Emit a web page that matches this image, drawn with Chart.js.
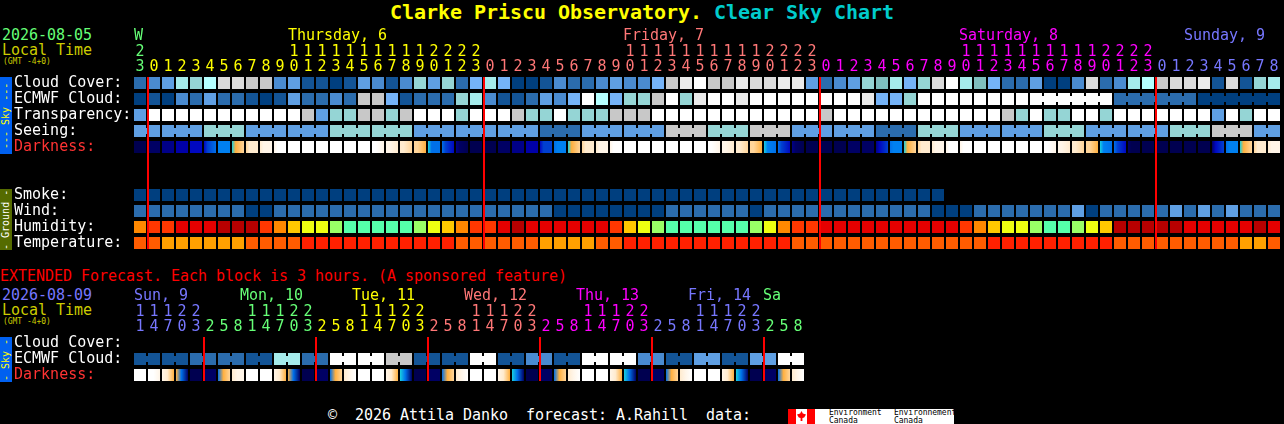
<!DOCTYPE html>
<html>
<head>
<meta charset="utf-8">
<title>Clear Sky Chart</title>
<script src="https://cdn.jsdelivr.net/npm/chart.js@4"></script>
<style>
    html, body { margin: 0; padding: 0; background: #000; }
    body { width: 1284px; height: 424px; position: relative; overflow: hidden; font-family: "DejaVu Sans Mono", monospace; }
    canvas { position: absolute; left: 0; }
    .t { position: absolute; white-space: pre; font-size: 15px; line-height: 16px; letter-spacing: -0.03px; color: #fff; }
    .strip { position: absolute; left: 0; width: 12px; writing-mode: vertical-rl; transform: rotate(180deg); text-align: center; font-size: 10px; line-height: 12px; white-space: pre; }
</style>
</head>
<body>
<div class="t" style="left:390px;top:0;font-size:20px;line-height:24px;letter-spacing:-0.04px;font-weight:bold;color:#ff0">Clarke Priscu Observatory. <span style="color:#0cc">Clear Sky Chart</span></div>

<div class="t" style="left:2px;top:27px;color:#66ff77">2026-08-05</div>
<div class="t" style="left:2px;top:42px;color:#cc0">Local Time</div>
<div class="t" style="left:3px;top:57px;font-size:8px;line-height:9px;color:#cc0">(GMT -4+0)</div>
<div class="strip" style="top:77px;height:77px;background:#0060f0;color:#ff0">--- Sky ---</div>
<div class="strip" style="top:189px;height:61px;background:#556b00;color:#fff">- Ground -</div>

<div class="t" style="left:0;top:268px;color:#f00">EXTENDED Forecast. Each block is 3 hours. (A sponsored feature)</div>
<div class="t" style="left:2px;top:287px;color:#7777ff">2026-08-09</div>
<div class="t" style="left:2px;top:302px;color:#cc0">Local Time</div>
<div class="t" style="left:3px;top:317px;font-size:8px;line-height:9px;color:#cc0">(GMT -4+0)</div>
<div class="strip" style="top:337px;height:45px;background:#0060f0;color:#ff0">- Sky -</div>

<div class="t" style="left:328px;top:407px">©  2026 Attila Danko  forecast: A.Rahill  data:</div>
<div style="position:absolute;left:788px;top:409px;width:166px;height:15px;background:#fff;overflow:hidden">
    <div style="position:absolute;left:0;top:0;width:8px;height:15px;background:#f00"></div>
    <div style="position:absolute;left:19px;top:0;width:8px;height:15px;background:#f00"></div>
    <div style="position:absolute;left:9px;top:2px;width:9px;height:10px;background:#f00;clip-path:polygon(50% 0,65% 25%,100% 35%,80% 65%,60% 70%,60% 100%,40% 100%,40% 70%,20% 65%,0 35%,35% 25%)"></div>
    <div class="t" style="left:41px;top:0;font-size:8px;line-height:8px;color:#000">Environment
Canada</div>
    <div class="t" style="left:106px;top:0;font-size:8px;line-height:8px;color:#000">Environnement
Canada</div>
</div>

<canvas id="chart-main" width="1284" height="210" style="top:41px;width:1284px;height:210px"></canvas>
<canvas id="chart-extended" width="1284" height="82" style="top:301px;width:1284px;height:82px"></canvas>

<script>
// hours along the top, one column per hour
const hourTicks = [
    23, 0, 1, 2, 3, 4, 5, 6, 7, 8, 9, 10, 11, 12, 13, 14, 15, 16, 17, 18, 19, 20, 21, 22, 23,
    0, 1, 2, 3, 4, 5, 6, 7, 8, 9, 10, 11, 12, 13, 14, 15, 16, 17, 18, 19, 20, 21, 22, 23,
    0, 1, 2, 3, 4, 5, 6, 7, 8, 9, 10, 11, 12, 13, 14, 15, 16, 17, 18, 19, 20, 21, 22, 23,
    0, 1, 2, 3, 4, 5, 6, 7, 8
];
const rowLabels = ['Cloud Cover:', 'ECMWF Cloud:', 'Transparency:', 'Seeing:', 'Darkness:', '', '', 'Smoke:', 'Wind:', 'Humidity:', 'Temperature:'];
const dayNames = ['W', 'Thursday, 6', 'Friday, 7', 'Saturday, 8', 'Sunday, 9'];
const dayStartColumns = [0, 1, 25, 49, 73];
const dayLabelLeft = [135, 289, 624, 960, 1185];
const midnightColumns = [1, 25, 49, 73];

// sky levels, index into skyPalette
const cloudCover = [
    2, 3, 4, 8, 7, 9, 11, 11, 10, 10,
    3, 4, 1, 1, 0, 1, 4, 3, 1, 3,
    7, 4, 7, 2, 5, 8, 5, 0, 0, 1,
    3, 2, 2, 3, 4, 3, 3, 5, 10, 12,
    13, 10, 10, 12, 11, 11, 12, 12, 4, 2,
    3, 4, 7, 6, 8, 5, 7, 11, 13, 8,
    6, 5, 2, 2, 4, 0, 0, 3, 11, 2,
    3, 8, 9, 10, 11, 11, 12, 1, 11, 1,
    7, 8
];
const ecmwfCloud = [
    0, 1, 0, 3, 2, 4, 2, 2, 1, 0,
    1, 4, 2, 2, 3, 2, 10, 10, 5, 1,
    2, 2, 2, 7, 8, 3, 1, 1, 2, 4,
    3, 5, 13, 9, 5, 7, 7, 10, 13, 7,
    12, 13, 13, 12, 13, 13, 13, 13, 13, 13,
    13, 13, 12, 5, 5, 7, 13, 13, 13, 13,
    13, 13, 13, 13, 13, 13, 13, 13, 13, 13,
    2, 2, 2, 2, 2, 2, 0, 0, 0, 0,
    0, 0
];
const ecmwfLinks = [64, 65, 66, 67, 68, 70, 71, 72, 73, 74, 76, 77, 78, 79, 80];
const transparency = [
    4, 13, 13, 13, 13, 13, 13, 13, 13, 13,
    13, 13, 10, 4, 7, 7, 10, 10, 7, 10,
    13, 13, 13, 7, 13, 13, 13, 10, 7, 7,
    13, 7, 7, 7, 10, 10, 10, 13, 13, 13,
    13, 13, 13, 13, 13, 13, 13, 13, 13, 10,
    13, 13, 13, 13, 13, 13, 13, 13, 13, 13,
    13, 13, 10, 7, 13, 7, 7, 13, 13, 7,
    13, 13, 13, 13, 13, 13, 13, 4, 13, 7,
    13, 13
];
const seeing = [
    4, 4, 4, 4, 4, 7, 7, 7, 4, 4,
    4, 4, 4, 4, 7, 7, 7, 7, 7, 7,
    4, 4, 4, 4, 4, 4, 4, 4, 4, 2,
    2, 2, 4, 4, 4, 4, 4, 4, 10, 10,
    10, 7, 7, 7, 10, 10, 10, 4, 4, 4,
    4, 4, 4, 2, 2, 2, 7, 7, 7, 4,
    4, 4, 4, 4, 4, 7, 7, 7, 4, 4,
    4, 4, 4, 4, 7, 7, 7, 10, 10, 10,
    4, 4
];
const seeingLinks = [
    0, 2, 3, 5, 6, 8, 9, 11, 12, 14, 15, 17, 18, 20, 21, 23, 24, 26, 27, 29, 30, 32, 33, 35, 36, 38, 39,
    41, 42, 44, 45, 47, 48, 50, 51, 53, 54, 56, 57, 59, 60, 62, 63, 65, 66, 68, 69, 71, 72, 74, 75, 77, 78, 80
];
const smoke = [
    0, 0, 0, 0, 0, 0, 0, 0, 0, 0,
    0, 0, 0, 0, 0, 0, 0, 0, 0, 0,
    0, 0, 0, 0, 0, 0, 0, 0, 0, 0,
    0, 0, 0, 0, 0, 0, 0, 0, 0, 0,
    0, 0, 0, 0, 0, 0, 0, 0, 0, 0,
    0, 0, 0, 0, 0, 0, 0, 0
];
const wind = [
    2, 2, 2, 2, 2, 2, 2, 2, 0, 0,
    2, 2, 2, 2, 2, 2, 2, 2, 2, 2,
    2, 2, 2, 2, 2, 2, 2, 2, 2, 2,
    0, 0, 0, 0, 0, 0, 0, 0, 2, 2,
    2, 2, 2, 2, 0, 2, 2, 2, 2, 2,
    2, 2, 2, 2, 2, 2, 2, 0, 0, 0,
    2, 2, 2, 2, 2, 2, 2, 4, 0, 2,
    2, 2, 2, 2, 4, 2, 4, 2, 4, 2,
    2, 2
];

// ground levels, index into humidityPalette and temperaturePalette
const humidity = [
    3, 2, 2, 1, 1, 1, 0, 0, 0, 2,
    3, 4, 5, 5, 6, 7, 7, 7, 7, 7,
    6, 5, 4, 3, 2, 2, 1, 0, 1, 1,
    1, 1, 1, 1, 2, 4, 5, 6, 7, 7,
    7, 7, 7, 7, 6, 5, 3, 2, 2, 1,
    1, 1, 1, 1, 1, 1, 1, 1, 1, 2,
    3, 4, 5, 5, 6, 7, 7, 6, 5, 4,
    0, 0, 0, 0, 0, 1, 1, 1, 1, 1,
    0, 1
];
const temperature = [
    1, 1, 2, 2, 2, 2, 2, 2, 1, 1,
    1, 1, 0, 0, 0, 0, 0, 0, 0, 0,
    0, 0, 0, 1, 1, 1, 1, 1, 1, 2,
    2, 2, 2, 1, 1, 0, 0, 0, 0, 0,
    0, 0, 0, 0, 0, 0, 0, 1, 1, 1,
    1, 1, 1, 1, 1, 1, 1, 1, 1, 1,
    1, 0, 0, 0, 0, 0, 0, 0, 0, 0,
    1, 1, 1, 1, 1, 1, 1, 1, 1, 2,
    2, 1
];

// darkness changes inside a block, so each block has three levels, left to right
const darkStart = [
    0, 1, 2, 3, 4, 4, 7, 8, 10, 11,
    12, 13, 13, 13, 13, 13, 13, 13, 12, 11,
    10, 8, 6, 2, 0, 0, 1, 2, 3, 4,
    6, 8, 10, 11, 12, 13, 13, 13, 13, 13,
    13, 13, 12, 11, 10, 8, 6, 2, 0, 0,
    0, 1, 1, 2, 6, 8, 10, 11, 12, 12,
    13, 13, 13, 13, 13, 13, 12, 11, 10, 8,
    6, 1, 0, 0, 0, 0, 0, 1, 6, 8,
    10, 11
];
const darkMid = [
    0, 1, 2, 3, 4, 5, 7, 9, 11, 12,
    13, 13, 13, 13, 13, 13, 13, 13, 12, 11,
    10, 6, 5, 1, 0, 0, 1, 2, 3, 5,
    7, 9, 11, 12, 13, 13, 13, 13, 13, 13,
    13, 13, 12, 11, 10, 7, 5, 1, 0, 0,
    0, 1, 1, 4, 7, 9, 11, 12, 13, 13,
    13, 13, 13, 13, 13, 13, 12, 11, 10, 7,
    5, 0, 0, 0, 0, 0, 0, 4, 7, 9,
    11, 12
];
const darkEnd = [
    0, 1, 2, 3, 4, 6, 7, 10, 11, 12,
    13, 13, 13, 13, 13, 13, 13, 12, 11, 10,
    9, 6, 4, 0, 0, 0, 1, 2, 3, 5,
    7, 10, 11, 12, 13, 13, 13, 13, 13, 13,
    13, 12, 11, 10, 9, 6, 4, 0, 0, 0,
    0, 1, 1, 5, 7, 10, 11, 12, 13, 13,
    13, 13, 13, 13, 13, 12, 11, 10, 9, 6,
    4, 0, 0, 0, 0, 0, 0, 5, 7, 10,
    11, 12
];

// extended forecast, one column per 3 hours
const extHourTicks = [
    11, 14, 17, 20, 23,
    2, 5, 8, 11, 14, 17, 20, 23,
    2, 5, 8, 11, 14, 17, 20, 23,
    2, 5, 8, 11, 14, 17, 20, 23,
    2, 5, 8, 11, 14, 17, 20, 23,
    2, 5, 8, 11, 14, 17, 20, 23,
    2, 5, 8
];
const extRowLabels = ['Cloud Cover:', 'ECMWF Cloud:', 'Darkness:'];
const extDayNames = ['Sun, 9', 'Mon, 10', 'Tue, 11', 'Wed, 12', 'Thu, 13', 'Fri, 14', 'Sa'];
const extDayStartColumns = [0, 5, 13, 21, 29, 37, 45];
const extDayLabelLeft = [135, 241, 353, 465, 577, 689, 764];
const extMidnightColumns = [5, 13, 21, 29, 37, 45];
const extEcmwfCloud = [
    1, 1, 1, 1, 2, 2, 2, 2, 1, 1,
    8, 8, 2, 2, 13, 13, 13, 13, 10, 10,
    1, 1, 1, 1, 13, 13, 1, 1, 3, 3,
    1, 1, 13, 13, 13, 13, 3, 3, 1, 1,
    4, 4, 1, 1, 4, 4, 13, 13
];
const extEcmwfLinks = [0, 2, 4, 6, 8, 10, 12, 14, 16, 18, 20, 22, 24, 26, 28, 30, 32, 34, 36, 38, 40, 42, 44, 46];
const extDarkStart = [
    13, 13, 12, 9, 0, 1, 6, 11, 13, 13,
    12, 9, 0, 1, 6, 11, 13, 13, 12, 8,
    0, 1, 6, 11, 13, 13, 12, 8, 0, 1,
    6, 11, 13, 13, 12, 8, 0, 1, 6, 11,
    13, 13, 12, 8, 0, 1, 6, 11
];
const extDarkMid = [
    13, 13, 11, 6, 0, 1, 9, 12, 13, 13,
    11, 6, 0, 1, 9, 12, 13, 13, 11, 6,
    0, 1, 9, 12, 13, 13, 11, 6, 0, 1,
    9, 12, 13, 13, 11, 6, 0, 1, 9, 12,
    13, 13, 11, 6, 0, 1, 9, 12
];
const extDarkEnd = [
    13, 12, 9, 1, 0, 1, 10, 12, 13, 13,
    9, 1, 0, 1, 10, 13, 13, 13, 9, 1,
    0, 1, 10, 13, 13, 13, 9, 1, 0, 1,
    10, 13, 13, 13, 9, 1, 0, 1, 10, 13,
    13, 13, 9, 1, 0, 1, 10, 13
];

const skyPalette = ['#003f7f', '#135496', '#2b6cad', '#4a8bd0', '#5f9fe3', '#75b3f7', '#7fbfbf', '#95d5d5', '#a5ebeb', '#b5ffff', '#c8c8c8', '#dadada', '#eaeaea', '#ffffff'];
const humidityPalette = ['#b80000', '#e50000', '#ff3700', '#ff8800', '#ffc800', '#eeff11', '#99ff66', '#55ffaa'];
const temperaturePalette = ['#ff2000', '#ff5c00', '#ffa000'];
const darknessPalette = ['#000050', '#000064', '#000088', '#0000a8', '#0008c0', '#0040d0', '#0070e8', '#0080f0', '#18d0e0', '#ffb040', '#ffd59a', '#ffebcf', '#fff5e8', '#ffffff'];
const dayColors = ['#66ff77', '#ffff00', '#ff7777', '#ff00ff', '#7777ff'];
const extDayColors = ['#7777ff', '#66ff77', '#ffff00', '#ff7777', '#ff00ff', '#7777ff', '#66ff77'];

const BLOCK = 0.375;    // half a block height, in rows
const LINK = 0.1875;    // half the height of the bridge between joined blocks

function rowBars(row, levels, palette, extra) {
    return Object.assign({
        data: levels.map(function () { return [row - BLOCK, row + BLOCK]; }),
        backgroundColor: levels.map(function (level) { return palette[level]; }),
        order: 3
    }, extra);
}

function linkBars(row, levels, links) {
    return {
        xAxisID: 'xGap',
        data: links.map(function (column) { return { x: column + 0.5, y: [row - LINK, row + LINK] }; }),
        backgroundColor: links.map(function (column) { return skyPalette[levels[column]]; }),
        barThickness: 2,
        order: 2
    };
}

function darknessBars(row, starts, mids, ends, midAt) {
    return rowBars(row, starts, darknessPalette, {
        backgroundColor: function (context) {
            const i = context.dataIndex;
            if (i === undefined || !context.chart.chartArea) {
                return '#000';
            }
            const x = context.chart.scales.x.getPixelForValue(i);
            const fill = context.chart.ctx.createLinearGradient(x - 6, 0, x + 6, 0);
            fill.addColorStop(0, darknessPalette[starts[i]]);
            fill.addColorStop(midAt, darknessPalette[mids[i]]);
            fill.addColorStop(1, darknessPalette[ends[i]]);
            return fill;
        }
    });
}

function midnightBars(columns, lastRow) {
    return {
        xAxisID: 'xGap',
        // the line sits on the left edge of the first block of the day
        data: columns.map(function (column) { return { x: column - 6 / 14, y: [-BLOCK, lastRow + BLOCK] }; }),
        backgroundColor: '#ff0000',
        barThickness: 2,
        order: 1
    };
}

function columnColor(column, starts, colors) {
    let found = 0;
    for (let i = 0; i < starts.length; i++) {
        if (column >= starts[i]) {
            found = i;
        }
    }
    return colors[found];
}

function createChart(chartId, hours, labels, datasets, dayStarts, colors) {
    const monoFont = { family: '"DejaVu Sans Mono", monospace', size: 15, lineHeight: 1 };
    const noEdgePadding = function (scale) {
        scale.paddingLeft = 0;
        scale.paddingRight = 0;
        scale.paddingTop = 0;
        scale.paddingBottom = 0;
    };
    return new Chart(document.getElementById(chartId), {
        type: 'bar',
        data: { labels: hours, datasets: datasets },
        options: {
            responsive: false,
            animation: false,
            events: [],
            layout: { padding: { left: 14, right: 1284 - 133 - 14 * hours.length, top: 0, bottom: 0 } },
            datasets: { bar: { grouped: false, barThickness: 12, borderWidth: 0, inflateAmount: 0 } },
            plugins: { legend: { display: false }, tooltip: { enabled: false } },
            scales: {
                x: {
                    type: 'category',
                    position: 'top',
                    offset: true,
                    grid: { display: false, drawTicks: false },
                    border: { display: false },
                    afterFit: function (scale) {
                        noEdgePadding(scale);
                        scale.height = 34;
                    },
                    ticks: {
                        autoSkip: false,
                        maxRotation: 0,
                        padding: 0,
                        font: monoFont,
                        color: function (context) { return columnColor(context.index, dayStarts, colors); },
                        callback: function (value, index) {
                            const hour = String(hours[index]);
                            return hour.length > 1 ? [hour[0], hour[1]] : ['', hour];
                        }
                    }
                },
                xGap: {
                    type: 'linear',
                    display: false,
                    offset: false,
                    min: -0.5,
                    max: hours.length - 0.5
                },
                y: {
                    type: 'linear',
                    reverse: true,
                    offset: false,
                    min: -0.5,
                    max: labels.length - 0.5,
                    grid: { display: false, drawTicks: false },
                    border: { display: false },
                    afterFit: function (scale) {
                        noEdgePadding(scale);
                        scale.width = 119;
                    },
                    afterBuildTicks: function (scale) {
                        scale.ticks = labels.map(function (label, row) { return { value: row }; });
                    },
                    ticks: {
                        autoSkip: false,
                        crossAlign: 'far',
                        font: monoFont,
                        color: function (context) {
                            return labels[context.tick.value] === 'Darkness:' ? '#ff3333' : '#ffffff';
                        },
                        callback: function (value) { return labels[value]; }
                    }
                }
            }
        }
    });
}

function addDayLabels(names, lefts, colors, top) {
    names.forEach(function (name, i) {
        const label = document.createElement('div');
        label.className = 't';
        label.style.left = (lefts[i] - 1) + 'px';
        label.style.top = top + 'px';
        label.style.color = colors[i];
        label.textContent = name;
        document.body.appendChild(label);
    });
}

addDayLabels(dayNames, dayLabelLeft, dayColors, 27);
addDayLabels(extDayNames, extDayLabelLeft, extDayColors, 287);

createChart('chart-main', hourTicks, rowLabels, [
    rowBars(0, cloudCover, skyPalette),
    rowBars(1, ecmwfCloud, skyPalette),
    linkBars(1, ecmwfCloud, ecmwfLinks),
    rowBars(2, transparency, skyPalette),
    rowBars(3, seeing, skyPalette),
    linkBars(3, seeing, seeingLinks),
    darknessBars(4, darkStart, darkMid, darkEnd, 0.3),
    rowBars(7, smoke, skyPalette),
    rowBars(8, wind, skyPalette),
    rowBars(9, humidity, humidityPalette),
    rowBars(10, temperature, temperaturePalette),
    midnightBars(midnightColumns, 10)
], dayStartColumns, dayColors);

createChart('chart-extended', extHourTicks, extRowLabels, [
    rowBars(1, extEcmwfCloud, skyPalette),
    linkBars(1, extEcmwfCloud, extEcmwfLinks),
    darknessBars(2, extDarkStart, extDarkMid, extDarkEnd, 0.45),
    midnightBars(extMidnightColumns, 2)
], extDayStartColumns, extDayColors);
</script>
</body>
</html>
